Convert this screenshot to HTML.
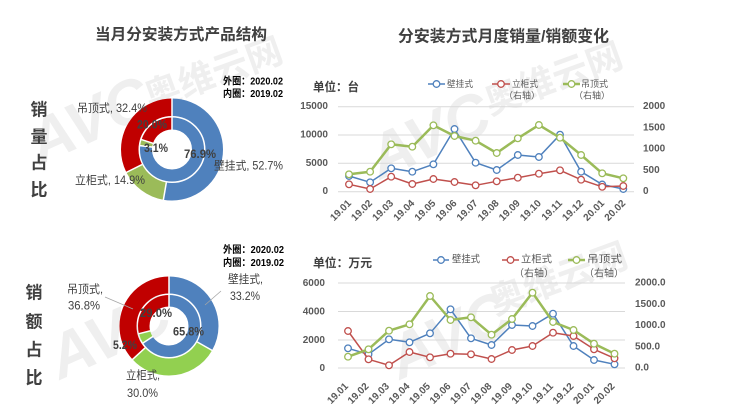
<!DOCTYPE html>
<html><head><meta charset="utf-8"><style>
html,body{margin:0;padding:0;background:#fff;}
svg{display:block;font-family:"Liberation Sans","Noto Sans CJK SC",sans-serif;}
</style></head><body>
<svg width="732" height="417" viewBox="0 0 732 417" xmlns="http://www.w3.org/2000/svg">
<defs>
<marker id="mb" viewBox="-5 -5 10 10" markerWidth="10" markerHeight="10" refX="0" refY="0" markerUnits="userSpaceOnUse"><circle r="3.3" fill="#fff" stroke="#4f81bd" stroke-width="1.3"/></marker>
<marker id="mr" viewBox="-5 -5 10 10" markerWidth="10" markerHeight="10" refX="0" refY="0" markerUnits="userSpaceOnUse"><circle r="3.3" fill="#fff" stroke="#c0504d" stroke-width="1.3"/></marker>
<marker id="mg" viewBox="-5 -5 10 10" markerWidth="10" markerHeight="10" refX="0" refY="0" markerUnits="userSpaceOnUse"><circle r="3.3" fill="#fff" stroke="#9bbb59" stroke-width="1.3"/></marker>
</defs>

<!-- watermarks -->
<g fill="#efefef" font-weight="bold">
<text x="40" y="165" font-size="62" font-style="italic" transform="rotate(-24 40 165)">AVC</text>
<text x="150" y="110" font-size="36" transform="rotate(-20 150 110)">奥维云网</text>
<text x="380" y="180" font-size="62" font-style="italic" transform="rotate(-24 380 180)">AVC</text>
<text x="490" y="115" font-size="36" transform="rotate(-20 490 115)">奥维云网</text>
<text x="60" y="380" font-size="62" font-style="italic" transform="rotate(-24 60 380)">AVC</text>
<text x="400" y="380" font-size="62" font-style="italic" transform="rotate(-24 400 380)">AVC</text>
<text x="495" y="315" font-size="36" transform="rotate(-20 495 315)">奥维云网</text>
</g>

<!-- titles -->
<text x="95" y="35" font-size="15.6" font-weight="bold" fill="#404040" dominant-baseline="central" textLength="172" lengthAdjust="spacingAndGlyphs">当月分安装方式产品结构</text>
<text x="398" y="37" font-size="16" font-weight="bold" fill="#404040" dominant-baseline="central" textLength="211" lengthAdjust="spacingAndGlyphs">分安装方式月度销量/销额变化</text>

<!-- vertical labels -->
<g font-size="17" font-weight="bold" fill="#404040" text-anchor="middle" dominant-baseline="central">
<text x="39" y="110">销</text><text x="39" y="137">量</text><text x="39" y="163">占</text><text x="39" y="190">比</text>
<text x="34" y="293">销</text><text x="34" y="322">额</text><text x="34" y="350">占</text><text x="34" y="378">比</text>
</g>

<!-- donut 1 -->
<g transform="rotate(-90 172 149.5)" fill="none">
<circle cx="172" cy="149.5" r="42.25" stroke="#4f81bd" stroke-width="17.5" stroke-dasharray="139.90 400" stroke-dashoffset="0"/>
<circle cx="172" cy="149.5" r="42.25" stroke="#9bbb59" stroke-width="17.5" stroke-dasharray="39.55 400" stroke-dashoffset="-139.90"/>
<circle cx="172" cy="149.5" r="42.25" stroke="#c00000" stroke-width="17.5" stroke-dasharray="86.01 400" stroke-dashoffset="-179.45"/>
<circle cx="172" cy="149.5" r="26" stroke="#4f81bd" stroke-width="12" stroke-dasharray="125.63 400" stroke-dashoffset="0"/>
<circle cx="172" cy="149.5" r="26" stroke="#9bbb59" stroke-width="12" stroke-dasharray="5.06 400" stroke-dashoffset="-125.63"/>
<circle cx="172" cy="149.5" r="26" stroke="#c00000" stroke-width="12" stroke-dasharray="32.67 400" stroke-dashoffset="-130.69"/>
</g>
<g stroke="#fff" stroke-width="1.5">
<line x1="172" y1="116" x2="172" y2="97" transform="rotate(0 172 149.5)"/>
<line x1="172" y1="116" x2="172" y2="97" transform="rotate(189.72 172 149.5)"/>
<line x1="172" y1="116" x2="172" y2="97" transform="rotate(243.36 172 149.5)"/>
<line x1="172" y1="130" x2="172" y2="117" transform="rotate(0 172 149.5)"/>
<line x1="172" y1="130" x2="172" y2="117" transform="rotate(276.84 172 149.5)"/>
<line x1="172" y1="130" x2="172" y2="117" transform="rotate(288 172 149.5)"/>
</g>
<g font-size="11.5" fill="#404040" dominant-baseline="central">
<text x="77" y="109" textLength="70" lengthAdjust="spacingAndGlyphs">吊顶式, 32.4%</text>
<text x="214" y="166.5" textLength="69" lengthAdjust="spacingAndGlyphs">壁挂式, 52.7%</text>
<text x="75" y="181" textLength="70" lengthAdjust="spacingAndGlyphs">立柜式, 14.9%</text>
<g font-weight="bold">
<text x="137" y="125.5" textLength="30" lengthAdjust="spacingAndGlyphs">20.0%</text>
<text x="144" y="149" textLength="24" lengthAdjust="spacingAndGlyphs">3.1%</text>
<text x="184" y="155" textLength="32" lengthAdjust="spacingAndGlyphs">76.9%</text>
</g>
</g>
<g font-size="10" font-weight="bold" fill="#000" dominant-baseline="central">
<text x="223" y="82" textLength="60" lengthAdjust="spacingAndGlyphs">外圈：2020.02</text>
<text x="223" y="94.7" textLength="60" lengthAdjust="spacingAndGlyphs">内圈：2019.02</text>
<text x="223" y="250.7" textLength="61" lengthAdjust="spacingAndGlyphs">外圈：2020.02</text>
<text x="223" y="263.3" textLength="61" lengthAdjust="spacingAndGlyphs">内圈：2019.02</text>
</g>

<!-- donut 2 -->
<g transform="rotate(-90 169 326)" fill="none">
<circle cx="169" cy="326" r="41" stroke="#4f81bd" stroke-width="17" stroke-dasharray="85.53 400" stroke-dashoffset="0"/>
<circle cx="169" cy="326" r="41" stroke="#92d050" stroke-width="17" stroke-dasharray="77.28 400" stroke-dashoffset="-85.53"/>
<circle cx="169" cy="326" r="41" stroke="#c00000" stroke-width="17" stroke-dasharray="94.80 400" stroke-dashoffset="-162.81"/>
<circle cx="169" cy="326" r="25.25" stroke="#4f81bd" stroke-width="11.5" stroke-dasharray="104.39 400" stroke-dashoffset="0"/>
<circle cx="169" cy="326" r="25.25" stroke="#92d050" stroke-width="11.5" stroke-dasharray="8.25 400" stroke-dashoffset="-104.39"/>
<circle cx="169" cy="326" r="25.25" stroke="#c00000" stroke-width="11.5" stroke-dasharray="46.01 400" stroke-dashoffset="-112.64"/>
</g>
<g stroke="#fff" stroke-width="1.5">
<line x1="169" y1="293.5" x2="169" y2="276" transform="rotate(0 169 326)"/>
<line x1="169" y1="293.5" x2="169" y2="276" transform="rotate(119.52 169 326)"/>
<line x1="169" y1="293.5" x2="169" y2="276" transform="rotate(227.52 169 326)"/>
<line x1="169" y1="307" x2="169" y2="294.5" transform="rotate(0 169 326)"/>
<line x1="169" y1="307" x2="169" y2="294.5" transform="rotate(236.88 169 326)"/>
<line x1="169" y1="307" x2="169" y2="294.5" transform="rotate(255.6 169 326)"/>
</g>
<g stroke="#a6a6a6" stroke-width="0.8">
<line x1="205" y1="305" x2="221" y2="291"/>
<line x1="105" y1="297" x2="133" y2="309"/>
</g>
<g font-size="11.5" fill="#404040" dominant-baseline="central">
<text x="228" y="280" textLength="35" lengthAdjust="spacingAndGlyphs">壁挂式,</text>
<text x="230" y="297" textLength="30" lengthAdjust="spacingAndGlyphs">33.2%</text>
<text x="67" y="290" textLength="36" lengthAdjust="spacingAndGlyphs">吊顶式,</text>
<text x="68" y="306.7" textLength="32" lengthAdjust="spacingAndGlyphs">36.8%</text>
<text x="126" y="376" textLength="34" lengthAdjust="spacingAndGlyphs">立柜式,</text>
<text x="127" y="394" textLength="31" lengthAdjust="spacingAndGlyphs">30.0%</text>
<g font-weight="bold">
<text x="140" y="314" textLength="32" lengthAdjust="spacingAndGlyphs">29.0%</text>
<text x="173" y="332.7" textLength="31" lengthAdjust="spacingAndGlyphs">65.8%</text>
<text x="113" y="346" textLength="24" lengthAdjust="spacingAndGlyphs">5.2%</text>
</g>
</g>

<!-- TOP LINE CHART -->
<text x="313" y="87" font-size="12" font-weight="bold" fill="#404040" dominant-baseline="central" textLength="46" lengthAdjust="spacingAndGlyphs">单位：台</text>
<g stroke="#d9d9d9" stroke-width="1">
<line x1="338" y1="106.7" x2="634" y2="106.7"/>
<line x1="338" y1="135" x2="634" y2="135"/>
<line x1="338" y1="163.3" x2="634" y2="163.3"/>
<line x1="338" y1="191.7" x2="634" y2="191.7"/>
</g>
<g font-size="10" font-weight="bold" fill="#595959" dominant-baseline="central">
<g text-anchor="end">
<text x="328" y="106.7">15000</text>
<text x="328" y="135">10000</text>
<text x="328" y="163.3">5000</text>
<text x="328" y="191.7">0</text>
</g>
<text x="643" y="106.7">2000</text>
<text x="643" y="128">1500</text>
<text x="643" y="149.2">1000</text>
<text x="643" y="170.5">500</text>
<text x="643" y="191.7">0</text>
</g>
<g fill="none" stroke-linejoin="round">
<polyline stroke="#4f81bd" stroke-width="1.5" marker-start="url(#mb)" marker-mid="url(#mb)" marker-end="url(#mb)" points="349,176 370.1,182.3 391.2,168.3 412.3,171.7 433.4,164.3 454.5,129 475.6,162.7 496.7,170 517.8,155 538.9,157 560,134.7 581.1,171.7 602.2,184.5 623.3,189"/>
<polyline stroke="#c0504d" stroke-width="1.5" marker-start="url(#mr)" marker-mid="url(#mr)" marker-end="url(#mr)" points="349,184.3 370.1,189 391.2,176.7 412.3,184 433.4,179 454.5,182 475.6,185.3 496.7,181.3 517.8,177.7 538.9,173.7 560,170.3 581.1,179.7 602.2,186.8 623.3,186"/>
<polyline stroke="#9bbb59" stroke-width="2.5" marker-start="url(#mg)" marker-mid="url(#mg)" marker-end="url(#mg)" points="349,174.3 370.1,171.7 391.2,144.3 412.3,146.7 433.4,125.3 454.5,136 475.6,140.7 496.7,153 517.8,138.3 538.9,125 560,137.7 581.1,155 602.2,173.3 623.3,178.3"/>
</g>
<g font-size="10" font-weight="bold" fill="#595959" text-anchor="end" dominant-baseline="central">
<text transform="translate(350,202) rotate(-45)">19.01</text>
<text transform="translate(371.1,202) rotate(-45)">19.02</text>
<text transform="translate(392.2,202) rotate(-45)">19.03</text>
<text transform="translate(413.3,202) rotate(-45)">19.04</text>
<text transform="translate(434.4,202) rotate(-45)">19.05</text>
<text transform="translate(455.5,202) rotate(-45)">19.06</text>
<text transform="translate(476.6,202) rotate(-45)">19.07</text>
<text transform="translate(497.7,202) rotate(-45)">19.08</text>
<text transform="translate(518.8,202) rotate(-45)">19.09</text>
<text transform="translate(539.9,202) rotate(-45)">19.10</text>
<text transform="translate(561,202) rotate(-45)">19.11</text>
<text transform="translate(582.1,202) rotate(-45)">19.12</text>
<text transform="translate(603.2,202) rotate(-45)">20.01</text>
<text transform="translate(624.3,202) rotate(-45)">20.02</text>
</g>
<!-- top legend -->
<g font-size="9" fill="#595959" dominant-baseline="central">
<line x1="428" y1="84" x2="445" y2="84" stroke="#4f81bd" stroke-width="1.5"/>
<circle cx="436.5" cy="84" r="3.3" fill="#fff" stroke="#4f81bd" stroke-width="1.3"/>
<text x="447" y="84" textLength="26" lengthAdjust="spacingAndGlyphs">壁挂式</text>
<line x1="492" y1="84" x2="510" y2="84" stroke="#c0504d" stroke-width="1.5"/>
<circle cx="501" cy="84" r="3.3" fill="#fff" stroke="#c0504d" stroke-width="1.3"/>
<text x="512" y="84" textLength="26" lengthAdjust="spacingAndGlyphs">立柜式</text>
<text x="504" y="95.5" textLength="36" lengthAdjust="spacingAndGlyphs">（右轴）</text>
<line x1="563" y1="84" x2="580" y2="84" stroke="#9bbb59" stroke-width="2.5"/>
<circle cx="571.5" cy="84" r="3.3" fill="#fff" stroke="#9bbb59" stroke-width="1.3"/>
<text x="581" y="84" textLength="27" lengthAdjust="spacingAndGlyphs">吊顶式</text>
<text x="574" y="95.5" textLength="36" lengthAdjust="spacingAndGlyphs">（右轴）</text>
</g>

<!-- BOTTOM LINE CHART -->
<text x="313" y="263" font-size="12" font-weight="bold" fill="#404040" dominant-baseline="central" textLength="59" lengthAdjust="spacingAndGlyphs">单位：万元</text>
<g stroke="#d9d9d9" stroke-width="1">
<line x1="338" y1="283" x2="625" y2="283"/>
<line x1="338" y1="311.5" x2="625" y2="311.5"/>
<line x1="338" y1="340" x2="625" y2="340"/>
<line x1="338" y1="368" x2="625" y2="368"/>
</g>
<g font-size="10" font-weight="bold" fill="#595959" dominant-baseline="central">
<g text-anchor="end">
<text x="325" y="283.5">6000</text>
<text x="325" y="312">4000</text>
<text x="325" y="340.3">2000</text>
<text x="325" y="368.3">0</text>
</g>
<text x="635" y="283">2000.0</text>
<text x="635" y="304.3">1500.0</text>
<text x="635" y="325.5">1000.0</text>
<text x="635" y="346.8">500.0</text>
<text x="635" y="368">0.0</text>
</g>
<g fill="none" stroke-linejoin="round">
<polyline stroke="#4f81bd" stroke-width="1.5" marker-start="url(#mb)" marker-mid="url(#mb)" marker-end="url(#mb)" points="348,348.3 368.5,354.3 389,339.3 409.5,342.3 430,333.3 450.5,309.3 471,338.3 491.5,345 512,325 532.5,326 553,313.7 573.5,346 594,360 614.5,364.3"/>
<polyline stroke="#c0504d" stroke-width="1.5" marker-start="url(#mr)" marker-mid="url(#mr)" marker-end="url(#mr)" points="348,331 368.5,359.3 389,365.3 409.5,352 430,357.3 450.5,353.7 471,354.3 491.5,359 512,350 532.5,346 553,332.7 573.5,336 594,349.3 614.5,358.3"/>
<polyline stroke="#9bbb59" stroke-width="2.5" marker-start="url(#mg)" marker-mid="url(#mg)" marker-end="url(#mg)" points="348,356.7 368.5,349.3 389,330.7 409.5,324.3 430,296 450.5,320 471,317.3 491.5,334.7 512,319 532.5,292.7 553,322 573.5,330 594,343.7 614.5,353.7"/>
</g>
<g font-size="10" font-weight="bold" fill="#595959" text-anchor="end" dominant-baseline="central">
<text transform="translate(347,385) rotate(-45)">19.01</text>
<text transform="translate(367.5,385) rotate(-45)">19.02</text>
<text transform="translate(388,385) rotate(-45)">19.03</text>
<text transform="translate(408.5,385) rotate(-45)">19.04</text>
<text transform="translate(429,385) rotate(-45)">19.05</text>
<text transform="translate(449.5,385) rotate(-45)">19.06</text>
<text transform="translate(470,385) rotate(-45)">19.07</text>
<text transform="translate(490.5,385) rotate(-45)">19.08</text>
<text transform="translate(511,385) rotate(-45)">19.09</text>
<text transform="translate(531.5,385) rotate(-45)">19.10</text>
<text transform="translate(552,385) rotate(-45)">19.11</text>
<text transform="translate(572.5,385) rotate(-45)">19.12</text>
<text transform="translate(593,385) rotate(-45)">20.01</text>
<text transform="translate(613.5,385) rotate(-45)">20.02</text>
</g>
<!-- bottom legend -->
<g font-size="10" fill="#595959" dominant-baseline="central">
<line x1="433" y1="260" x2="449" y2="260" stroke="#4f81bd" stroke-width="1.5"/>
<circle cx="441" cy="260" r="3.3" fill="#fff" stroke="#4f81bd" stroke-width="1.3"/>
<text x="452" y="260" textLength="28" lengthAdjust="spacingAndGlyphs">壁挂式</text>
<line x1="502" y1="260" x2="519" y2="260" stroke="#c0504d" stroke-width="1.5"/>
<circle cx="510.5" cy="260" r="3.3" fill="#fff" stroke="#c0504d" stroke-width="1.3"/>
<text x="521" y="260" textLength="31" lengthAdjust="spacingAndGlyphs">立柜式</text>
<text x="514" y="274" textLength="40" lengthAdjust="spacingAndGlyphs">（右轴）</text>
<line x1="568" y1="260" x2="585" y2="260" stroke="#9bbb59" stroke-width="2.5"/>
<circle cx="576.5" cy="260" r="3.3" fill="#fff" stroke="#9bbb59" stroke-width="1.3"/>
<text x="587" y="260" textLength="35" lengthAdjust="spacingAndGlyphs">吊顶式</text>
<text x="584" y="274" textLength="40" lengthAdjust="spacingAndGlyphs">（右轴）</text>
</g>
</svg>
</body></html>
